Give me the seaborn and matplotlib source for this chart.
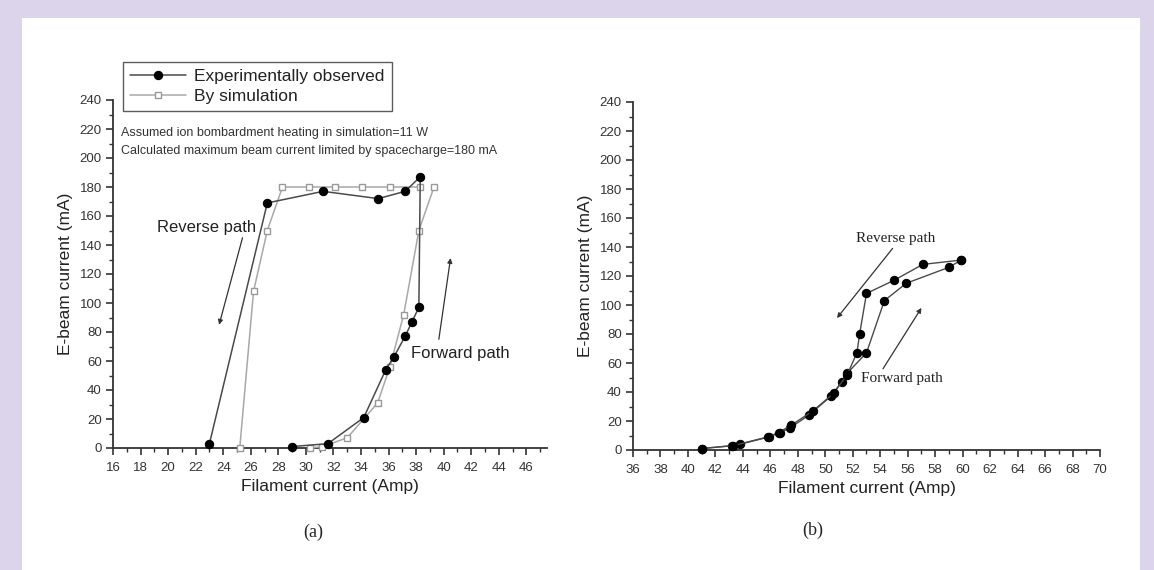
import matplotlib
matplotlib.use('Agg')
import matplotlib.pyplot as plt
import seaborn as sns
from matplotlib.ticker import MultipleLocator
from matplotlib.patches import Rectangle

sns.set_style('white')
plt.rcParams['font.family'] = ['Liberation Sans', 'DejaVu Sans']

# ---- panel (a): experiment loop (forward then reverse) ----
exp_a_x = [29.0, 31.6, 34.2, 35.8, 36.4, 37.2, 37.7, 38.2, 38.3, 37.2, 35.25, 31.25, 27.2, 23.0]
exp_a_y = [1, 3, 21, 54, 63, 77, 87, 97, 187, 177, 172, 177, 169, 3]

# simulation, forward and reverse
sim_fwd_x = [30.3, 31.2, 33.0, 35.2, 36.1, 37.1, 38.2, 39.3]
sim_fwd_y = [0, 1, 7, 31, 56, 92, 150, 180]
sim_rev_x = [38.3, 36.1, 34.1, 32.1, 30.2, 28.3, 27.2, 26.2, 25.2]
sim_rev_y = [180, 180, 180, 180, 180, 180, 150, 108, 0]

# ---- panel (b) ----
fwd_b_x = [41.0, 43.2, 43.8, 45.9, 46.7, 47.4, 48.8, 50.4, 51.2, 51.6, 53.0, 54.3, 55.9, 59.0, 59.9]
fwd_b_y = [1, 3, 4, 9, 12, 15, 24, 37, 47, 53, 67, 103, 115, 126, 131]
rev_b_x = [59.9, 57.1, 55.0, 53.0, 52.5, 52.3, 51.6, 50.6, 49.1, 47.5, 46.6, 45.8, 43.3, 41.0]
rev_b_y = [131, 128, 117, 108, 80, 67, 52, 39, 27, 17, 12, 9, 3, 1]

legend_labels = ['Experimentally observed', 'By simulation']
note_lines = ['Assumed ion bombardment heating in simulation=11 W',
              'Calculated maximum beam current limited by spacecharge=180 mA']

W, H = 1154, 570
fig = plt.figure(figsize=(W / 100, H / 100), dpi=100, facecolor='#dbd4ea')
fig.add_artist(Rectangle((22 / W, 0), (1140 - 22) / W, (H - 18) / H,
                         transform=fig.transFigure, facecolor='white',
                         edgecolor='none', zorder=-5))

ax1 = fig.add_axes([113 / W, 1 - 448 / H, (547 - 113) / W, 348 / H])
ax2 = fig.add_axes([633 / W, 1 - 450 / H, (1100 - 633) / W, 348 / H])

dark = '#4a4a4a'
light = '#a8a8a8'

sns.lineplot(x=exp_a_x, y=exp_a_y, sort=False, estimator=None, ax=ax1,
             color=dark, lw=1.1, marker='o', ms=6, mfc='black', mec='black',
             label=legend_labels[0], clip_on=False, zorder=4)
sns.lineplot(x=sim_fwd_x, y=sim_fwd_y, sort=False, estimator=None, ax=ax1,
             color=light, lw=1.1, marker='s', ms=5, mfc='white', mec='#999999',
             mew=1, label=legend_labels[1], clip_on=False, zorder=3)
sns.lineplot(x=sim_rev_x, y=sim_rev_y, sort=False, estimator=None, ax=ax1,
             color=light, lw=1.1, marker='s', ms=5, mfc='white', mec='#999999',
             mew=1, clip_on=False, zorder=3)

for xs, ys in [(fwd_b_x, fwd_b_y), (rev_b_x, rev_b_y)]:
    sns.lineplot(x=xs, y=ys, sort=False, estimator=None, ax=ax2,
                 color=dark, lw=1.0, marker='o', ms=6, mfc='black', mec='black',
                 clip_on=False, zorder=4)

for ax, (x0, x1) in [(ax1, (16, 47.5)), (ax2, (36, 70))]:
    ax.set_xlim(x0, x1)
    ax.set_ylim(0, 240)
    ax.xaxis.set_major_locator(MultipleLocator(2))
    ax.xaxis.set_minor_locator(MultipleLocator(1))
    ax.yaxis.set_major_locator(MultipleLocator(20))
    ax.yaxis.set_minor_locator(MultipleLocator(10))
    ax.tick_params(which='major', direction='out', length=5, width=1.2,
                   labelsize=9.5, colors='#333333', bottom=True, left=True)
    ax.tick_params(axis='x', which='major', pad=5)
    ax.tick_params(axis='y', which='major', pad=3)
    ax.tick_params(which='minor', direction='out', length=3, width=1,
                   bottom=True, left=True, colors='#333333')
    for s in ['top', 'right']:
        ax.spines[s].set_visible(False)
    for s in ['left', 'bottom']:
        ax.spines[s].set_color('#333333')
        ax.spines[s].set_linewidth(1.3)
    ax.set_xlabel('Filament current (Amp)', fontsize=12.5, color='#222222', labelpad=4)
    ax.set_ylabel('E-beam current (mA)', fontsize=12.5, color='#222222', labelpad=5)

leg = ax1.legend(loc='upper left', bbox_to_anchor=(123 / W, 1 - 62 / H),
                 bbox_transform=fig.transFigure, fontsize=12.5, frameon=True,
                 fancybox=False, edgecolor='#333333', borderpad=0.4,
                 handlelength=3.2, handletextpad=0.5, labelspacing=0.3,
                 borderaxespad=0)
leg.get_frame().set_linewidth(1.0)
for t in leg.get_texts():
    t.set_color('#222222')

ax1.text(16.6, 217, note_lines[0], fontsize=9, va='center', ha='left', color='#333333')
ax1.text(16.6, 205, note_lines[1], fontsize=9, va='center', ha='left', color='#333333')
ax1.text(19.2, 152, 'Reverse path', fontsize=12, va='center', ha='left', color='#222222')
ax1.text(37.6, 65, 'Forward path', fontsize=12, va='center', ha='left', color='#222222')

arrow = dict(arrowstyle='-|>', lw=0.9, color='#333333', mutation_scale=7, shrinkA=0, shrinkB=0)
ax1.annotate('', xy=(23.7, 85), xytext=(25.4, 145), arrowprops=arrow)
ax1.annotate('', xy=(40.5, 131), xytext=(39.65, 75), arrowprops=arrow)

serif = ['Liberation Serif', 'DejaVu Serif']
ax2.text(55.1, 146, 'Reverse path', fontsize=11, family=serif, va='center', ha='center', color='#222222')
ax2.text(55.6, 49, 'Forward path', fontsize=11, family=serif, va='center', ha='center', color='#222222')
ax2.annotate('', xy=(50.85, 91), xytext=(54.9, 139), arrowprops=arrow)
ax2.annotate('', xy=(57.0, 98), xytext=(54.2, 56), arrowprops=arrow)

fig.text(313 / W, 1 - 532 / H, '(a)', fontsize=13, family=serif, ha='center', va='center')
fig.text(813 / W, 1 - 530 / H, '(b)', fontsize=13, family=serif, ha='center', va='center')

fig.savefig('out.png', dpi=100)
